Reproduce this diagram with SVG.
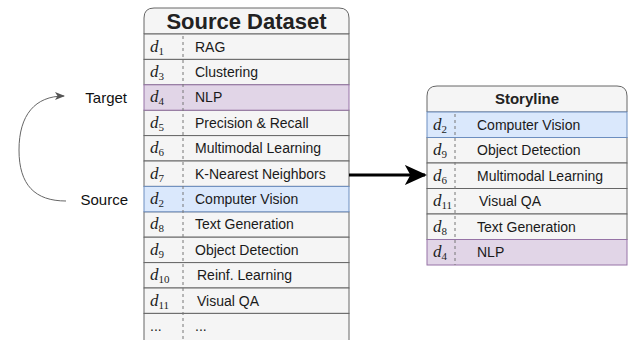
<svg xmlns="http://www.w3.org/2000/svg" width="629" height="340" viewBox="0 0 629 340">
<style>
.row{fill:#f5f5f5;stroke:#666;stroke-width:1}
.pur{fill:#e1d5e7;stroke:#9673a6;stroke-width:1}
.blu{fill:#dae8fc;stroke:#6c8ebf;stroke-width:1}
.hdr{fill:#f5f5f5;stroke:#666;stroke-width:1}
.div{stroke:#777;stroke-width:1;stroke-dasharray:3 3;fill:none}
.t{font-family:"Liberation Sans",Arial,sans-serif;font-size:14px;fill:#1a1a1a}
.m{font-family:"Liberation Serif","Times New Roman",serif;font-style:italic;font-size:17px;fill:#222}
.s{font-size:11px;font-style:normal}
.lbl{font-family:"Liberation Sans",Arial,sans-serif;font-size:15px;fill:#111}
</style>
<defs>
<marker id="ah" viewBox="0 0 10 10" refX="9" refY="5" markerWidth="10" markerHeight="10" markerUnits="userSpaceOnUse" orient="auto">
<path d="M0,1 L10,5 L0,9 L2.5,5 Z" fill="#555"/>
</marker>
<marker id="bh" viewBox="0 0 10 10" refX="9" refY="5" markerWidth="7.5" markerHeight="7.5" orient="auto">
<path d="M0,0.5 L10,5 L0,9.5 L2.5,5 Z" fill="#000"/>
</marker>
</defs>

<g id="source-dataset">
<path class="hdr" d="M144,34 V18 Q144,8 154,8 H339 Q349,8 349,18 V34 Z"/>
<text x="246.5" y="29" text-anchor="middle" font-family="'Liberation Sans',Arial,sans-serif" font-size="22" font-weight="bold" fill="#222">Source Dataset</text>
<rect class="row" x="144" y="34" width="205" height="25.4"/>
<rect class="row" x="144" y="59.4" width="205" height="25.4"/>
<rect class="row" x="144" y="110.2" width="205" height="25.4"/>
<rect class="row" x="144" y="135.6" width="205" height="25.4"/>
<rect class="row" x="144" y="161" width="205" height="25.4"/>
<rect class="row" x="144" y="211.8" width="205" height="25.4"/>
<rect class="row" x="144" y="237.2" width="205" height="25.4"/>
<rect class="row" x="144" y="262.6" width="205" height="25.4"/>
<rect class="row" x="144" y="288" width="205" height="25.4"/>
<rect class="row" x="144" y="313.4" width="205" height="35"/>
<rect class="pur" x="144" y="84.8" width="205" height="25.4"/>
<rect class="blu" x="144" y="186.4" width="205" height="25.4"/>
<line class="div" x1="183" y1="36" x2="183" y2="340"/>
<text class="m" x="150" y="51.5">d<tspan class="s" dy="3">1</tspan></text>
<text class="m" x="150" y="76.9">d<tspan class="s" dy="3">3</tspan></text>
<text class="m" x="150" y="102.3">d<tspan class="s" dy="3">4</tspan></text>
<text class="m" x="150" y="127.7">d<tspan class="s" dy="3">5</tspan></text>
<text class="m" x="150" y="153.1">d<tspan class="s" dy="3">6</tspan></text>
<text class="m" x="150" y="178.5">d<tspan class="s" dy="3">7</tspan></text>
<text class="m" x="150" y="203.9">d<tspan class="s" dy="3">2</tspan></text>
<text class="m" x="150" y="229.3">d<tspan class="s" dy="3">8</tspan></text>
<text class="m" x="150" y="254.7">d<tspan class="s" dy="3">9</tspan></text>
<text class="m" x="150" y="280.1">d<tspan class="s" dy="3">10</tspan></text>
<text class="m" x="150" y="305.5">d<tspan class="s" dy="3">11</tspan></text>
<text class="t" x="150" y="331" fill="#555">...</text>
<text class="t" x="195" y="51.5">RAG</text>
<text class="t" x="195" y="76.9">Clustering</text>
<text class="t" x="195" y="102.3">NLP</text>
<text class="t" x="195" y="127.7">Precision &amp; Recall</text>
<text class="t" x="195" y="153.1">Multimodal Learning</text>
<text class="t" x="195" y="178.5">K-Nearest Neighbors</text>
<text class="t" x="195" y="203.9">Computer Vision</text>
<text class="t" x="195" y="229.3">Text Generation</text>
<text class="t" x="195" y="254.7">Object Detection</text>
<text class="t" x="197" y="280.1">Reinf. Learning</text>
<text class="t" x="197" y="305.5">Visual QA</text>
<text class="t" x="195" y="331">...</text>
</g>

<g id="storyline">
<path class="hdr" d="M427,112 V96 Q427,86 437,86 H617 Q627,86 627,96 V112 Z"/>
<text x="527" y="104" text-anchor="middle" font-family="'Liberation Sans',Arial,sans-serif" font-size="15" font-weight="bold" fill="#222">Storyline</text>
<rect class="row" x="427" y="137.5" width="200" height="25.5"/>
<rect class="row" x="427" y="163" width="200" height="25.5"/>
<rect class="row" x="427" y="188.5" width="200" height="25.5"/>
<rect class="row" x="427" y="214" width="200" height="25.5"/>
<rect class="blu" x="427" y="112" width="200" height="25.5"/>
<rect class="pur" x="427" y="239.5" width="200" height="25.5"/>
<line class="div" x1="455" y1="114" x2="455" y2="265"/>
<text class="m" x="433" y="129.5">d<tspan class="s" dy="3">2</tspan></text>
<text class="m" x="433" y="155">d<tspan class="s" dy="3">9</tspan></text>
<text class="m" x="433" y="180.5">d<tspan class="s" dy="3">6</tspan></text>
<text class="m" x="433" y="206">d<tspan class="s" dy="3">11</tspan></text>
<text class="m" x="433" y="231.5">d<tspan class="s" dy="3">8</tspan></text>
<text class="m" x="433" y="257">d<tspan class="s" dy="3">4</tspan></text>
<text class="t" x="477" y="129.5">Computer Vision</text>
<text class="t" x="477" y="155">Object Detection</text>
<text class="t" x="477" y="180.5">Multimodal Learning</text>
<text class="t" x="479" y="206">Visual QA</text>
<text class="t" x="477" y="231.5">Text Generation</text>
<text class="t" x="477" y="257">NLP</text>
</g>

<g id="label-target"><text class="lbl" x="127" y="102.5" text-anchor="end">Target</text></g>
<g id="label-source"><text class="lbl" x="128" y="204.5" text-anchor="end">Source</text></g>

<g id="connectors">
<path d="M66,201 C35,201 19,185 19,150 C19,115 35,96 64,96" fill="none" stroke="#666" stroke-width="1" marker-end="url(#ah)"/>
<path d="M349,175 L425,175" fill="none" stroke="#000" stroke-width="3" marker-end="url(#bh)"/>
</g>
</svg>
